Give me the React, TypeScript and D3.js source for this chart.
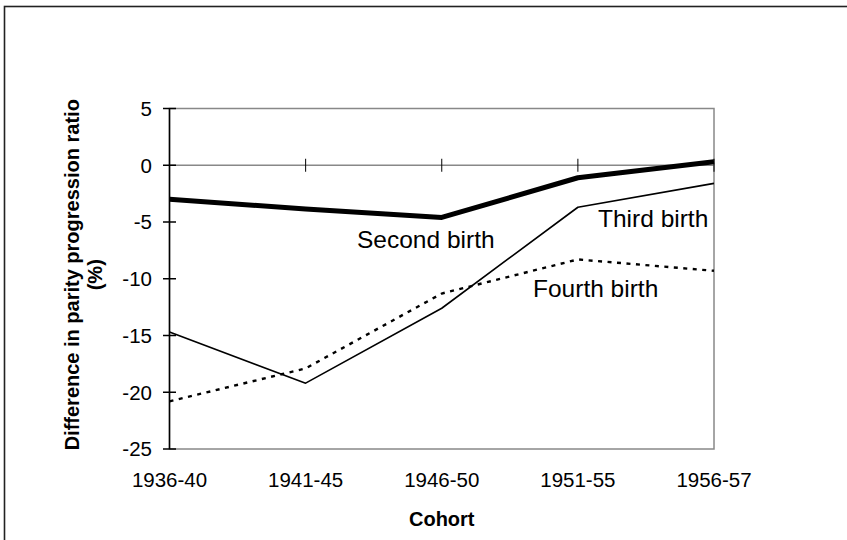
import { useEffect, useRef } from 'react';
import * as d3 from 'd3';

const cohorts = ['1936-40', '1941-45', '1946-50', '1951-55', '1956-57'];
const secondBirth = [-3.0, -3.85, -4.6, -1.1, 0.3];
const thirdBirth = [-14.7, -19.2, -12.6, -3.7, -1.6];
const fourthBirth = [-20.8, -17.9, -11.3, -8.3, -9.3];
const yTicks = [5, 0, -5, -10, -15, -20, -25];

const width = 847;
const height = 540;
const left = 169.5;
const right = 714;
const top = 108.5;
const bottom = 449;
const font = "'Liberation Sans', Arial, Helvetica, sans-serif";

const App = () => {
  const containerRef = useRef<HTMLDivElement | null>(null);

  useEffect(() => {
    if (!containerRef.current) return;
    containerRef.current.innerHTML = '';

    const xScale = d3.scalePoint<string>().domain(cohorts).range([left, right]);
    const yScale = d3.scaleLinear().domain([-25, 5]).range([bottom, top]);

    const svg = d3
      .create('svg')
      .attr('width', width)
      .attr('height', height)
      .attr('viewBox', [0, 0, width, height])
      .attr('font-family', font)
      .style('display', 'block')
      .style('background', '#fff');

    // outer chart border (runs off the picture on right and bottom)
    svg
      .append('rect')
      .attr('x', 4.5)
      .attr('y', 6.5)
      .attr('width', width + 20)
      .attr('height', height + 20)
      .attr('fill', 'none')
      .attr('stroke', '#222')
      .attr('stroke-width', 1.6);

    // plot area frame in gray
    svg
      .append('rect')
      .attr('x', left)
      .attr('y', top)
      .attr('width', right - left)
      .attr('height', bottom - top)
      .attr('fill', 'none')
      .attr('stroke', '#888')
      .attr('stroke-width', 1.5);

    // zero line
    svg
      .append('line')
      .attr('x1', left)
      .attr('x2', right)
      .attr('y1', yScale(0))
      .attr('y2', yScale(0))
      .attr('stroke', '#888')
      .attr('stroke-width', 1.5);

    // category ticks crossing the zero line
    svg
      .append('g')
      .selectAll('line')
      .data(cohorts.slice(1))
      .join('line')
      .attr('x1', d => xScale(d) as number)
      .attr('x2', d => xScale(d) as number)
      .attr('y1', yScale(0) - 6.5)
      .attr('y2', yScale(0) + 6.5)
      .attr('stroke', '#000')
      .attr('stroke-width', 1);

    // y axis
    svg
      .append('line')
      .attr('x1', left)
      .attr('x2', left)
      .attr('y1', top)
      .attr('y2', bottom)
      .attr('stroke', '#000')
      .attr('stroke-width', 1.5);

    const yAxis = svg.append('g');
    yAxis
      .selectAll('line')
      .data(yTicks)
      .join('line')
      .attr('x1', left - 6.5)
      .attr('x2', left + 6.5)
      .attr('y1', d => yScale(d))
      .attr('y2', d => yScale(d))
      .attr('stroke', '#000')
      .attr('stroke-width', 1.5);
    yAxis
      .selectAll('text')
      .data(yTicks)
      .join('text')
      .attr('x', 152)
      .attr('y', d => yScale(d) + 7.3)
      .attr('text-anchor', 'end')
      .attr('font-size', 20.5)
      .attr('fill', '#000')
      .text(d => String(d));

    // x tick labels
    svg
      .append('g')
      .selectAll('text')
      .data(cohorts)
      .join('text')
      .attr('x', d => xScale(d) as number)
      .attr('y', 487)
      .attr('text-anchor', 'middle')
      .attr('font-size', 20.5)
      .attr('fill', '#000')
      .text(d => d);

    // axis titles
    svg
      .append('text')
      .attr('x', xScale('1946-50') as number)
      .attr('y', 526)
      .attr('text-anchor', 'middle')
      .attr('font-size', 20)
      .attr('font-weight', 700)
      .text('Cohort');

    const yTitle = svg
      .append('text')
      .attr('transform', `translate(0,${(top + bottom) / 2 - 4}) rotate(-90)`)
      .attr('text-anchor', 'middle')
      .attr('font-size', 20)
      .attr('font-weight', 700);
    yTitle.append('tspan').attr('x', 0).attr('y', 79).text('Difference in  parity progression ratio');
    yTitle.append('tspan').attr('x', 0).attr('y', 102).text('(%)');

    // series lines
    const line = d3
      .line<number>()
      .curve(d3.curveLinear)
      .x((_, i) => xScale(cohorts[i]) as number)
      .y(d => yScale(d));

    svg
      .append('path')
      .attr('fill', 'none')
      .attr('stroke', '#000')
      .attr('stroke-width', 2.4)
      .attr('stroke-dasharray', '4,5.5')
      .attr('d', line(fourthBirth));

    svg
      .append('path')
      .attr('fill', 'none')
      .attr('stroke', '#000')
      .attr('stroke-width', 1.6)
      .attr('stroke-linejoin', 'round')
      .attr('d', line(thirdBirth));

    svg
      .append('path')
      .attr('fill', 'none')
      .attr('stroke', '#000')
      .attr('stroke-width', 5)
      .attr('stroke-linejoin', 'round')
      .attr('d', line(secondBirth));

    // series labels
    const labels = [
      { text: 'Second birth', x: 357, y: 248 },
      { text: 'Third birth', x: 598, y: 227 },
      { text: 'Fourth birth', x: 533, y: 297 },
    ];
    svg
      .append('g')
      .selectAll('text')
      .data(labels)
      .join('text')
      .attr('x', d => d.x)
      .attr('y', d => d.y)
      .attr('font-size', 24.5)
      .attr('fill', '#000')
      .text(d => d.text);

    containerRef.current.append(svg.node() as Node);
  }, []);

  return <div ref={containerRef} style={{ position: 'absolute', left: 0, top: 0 }} />;
};

export default App;
